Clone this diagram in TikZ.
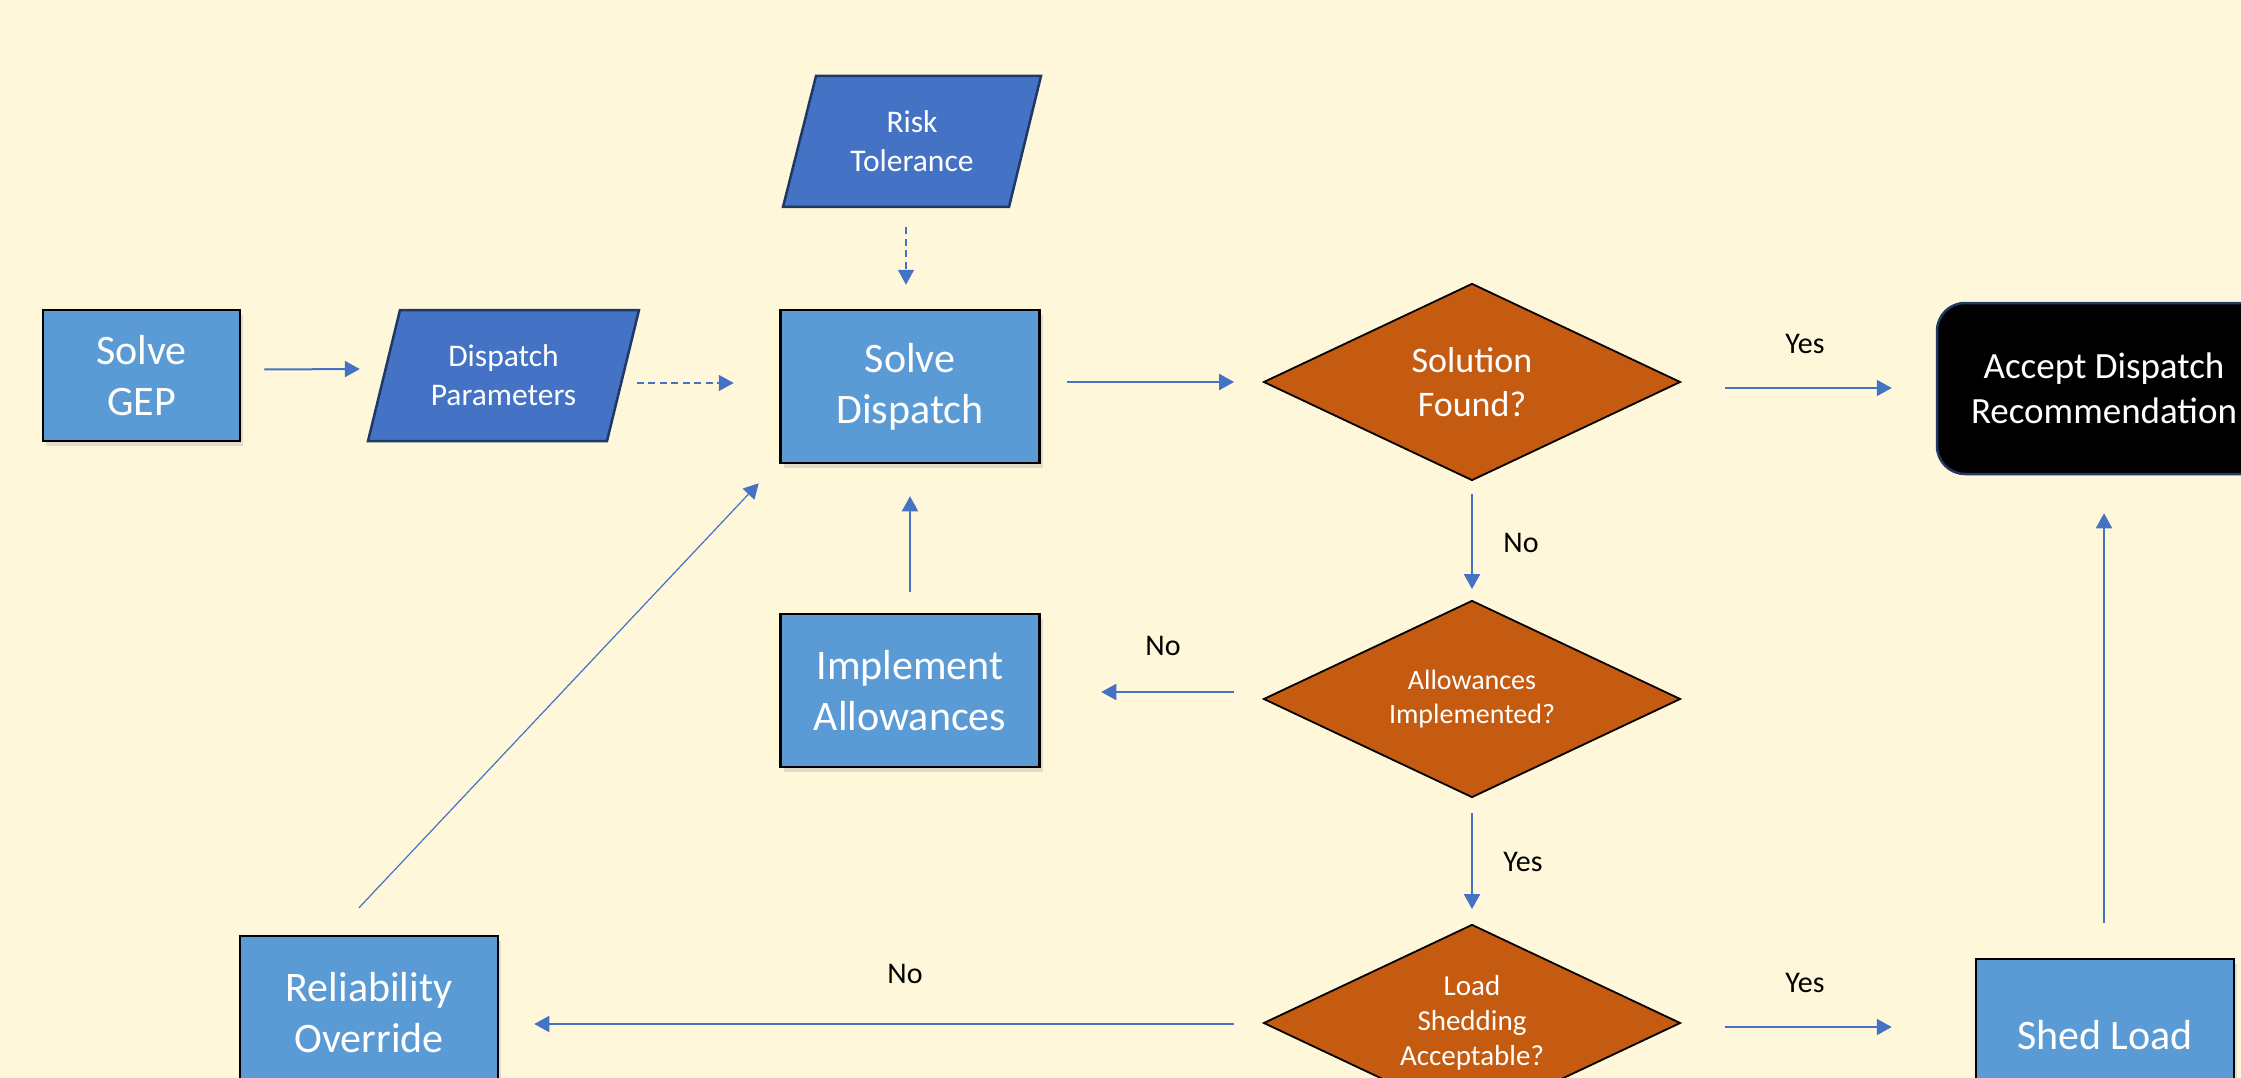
\documentclass[tikz,border=0pt]{standalone}
\usepackage{fontspec}
\setmainfont{Carlito}
\usetikzlibrary{arrows.meta,shapes.geometric,calc,shadows}
\definecolor{bg}{HTML}{FFF7DA}
\definecolor{procblue}{HTML}{5B9BD5}
\definecolor{ioblue}{HTML}{4472C4}
\definecolor{navy}{HTML}{1F3864}
\definecolor{decor}{HTML}{C55A11}
\definecolor{arrowc}{HTML}{4472C4}
\tikzset{
 proc/.style={rectangle, draw=black, line width=2.5pt, fill=procblue, text=white, align=center, inner sep=0pt, minimum width=258pt, minimum height=153pt, font=\fontsize{42}{51}\selectfont, drop shadow={shadow xshift=3pt, shadow yshift=-5pt, opacity=0.22}},
 iotext/.style={rectangle, text=white, align=center, inner sep=0pt, font=\fontsize{31.5}{39}\selectfont},
 ioshape/.style={fill=ioblue, draw=navy, line width=2.5pt, line join=miter},
 decision/.style={diamond, aspect=2.12, draw=black, line width=1.8pt, fill=decor, text=white, align=center, inner sep=0pt, minimum width=417pt, minimum height=197pt},
 terminal/.style={rectangle, rounded corners=28pt, draw=navy, line width=2.5pt, fill=black, text=white, align=center, inner sep=0pt, minimum width=334pt, minimum height=171pt, font=\fontsize{37}{45}\selectfont},
 flow/.style={draw=arrowc, line width=2pt, -{Triangle[length=15pt,width=16pt]}},
 thinflow/.style={flow, line width=1.2pt},
 dashflow/.style={flow, line width=1.5pt, dash pattern=on 7pt off 4.5pt},
 lbl/.style={text=black, font=\fontsize{30}{36}\selectfont, inner sep=0pt},
}
\begin{document}
\begin{tikzpicture}[x=1pt,y=-1pt]
\useasboundingbox (0,0) rectangle (2241,1078);
\fill[bg] (0,0) rectangle (2241,1078);
\clip (0,0) rectangle (2241,1078);

% input/output parallelograms
\filldraw[ioshape] (400,310) -- (639,310) -- (607,441) -- (368,441) -- cycle;
\filldraw[ioshape] (816,76) -- (1041,76) -- (1009,207) -- (783,207) -- cycle;

% nodes
\node[proc, minimum width=197pt, minimum height=131pt] (gep) at (141.5,375.5) {Solve\\GEP};
\node[iotext, minimum width=239pt, minimum height=131pt] (dp) at (503.5,375.5) {Dispatch\\Parameters};
\node[iotext, minimum width=225pt, minimum height=131pt] (rt) at (912,141.5) {Risk\\Tolerance};
\node[proc, minimum width=259pt] (sd) at (910,386.5) {Solve\\Dispatch};
\node[decision, font=\fontsize{36}{44}\selectfont] (sf) at (1472,382) {Solution\\Found?};
\node[terminal] (acc) at (2104,388.5) {Accept Dispatch\\Recommendation};
\node[decision, font=\fontsize{28}{34}\selectfont] (ai) at (1472,699) {Allowances\\Implemented?};
\node[proc, minimum width=259pt] (ia) at (910,690.5) {Implement\\Allowances};
\node[decision, font=\fontsize{29}{35}\selectfont] (ls) at (1472,1023) {Load\\Shedding\\Acceptable?};
\node[proc] (ro) at (369,1012.5) {Reliability\\Override};
\node[proc] (shed) at (2105,1035.5) {Shed Load};

% connectors
\draw[flow] ($(gep.east)+(23,-6)$) -- ($(dp.west)+(-24,-6.5)$);
\draw[dashflow] ($(dp.east)+(13.5,7.5)$) -- ($(sd.west)+(-45.5,-3.5)$);
\draw[dashflow] ($(rt.south)+(-6,20)$) -- ($(sd.north)+(-4,-24)$);
\draw[flow] ($(sd.east)+(26.5,-4.5)$) -- ($(sf.west)+(-28.5,0)$);
\draw[flow] ($(sf.east)+(43.5,6)$) -- ($(acc.west)+(-44,-0.5)$);
\draw[flow] ($(sf.south)+(0,12.5)$) -- ($(ai.north)+(0,-10.5)$);
\draw[flow] ($(ai.west)+(-28.5,-7)$) -- ($(ia.east)+(60.5,1.5)$);
\draw[flow] ($(ia.north)+(0,-21)$) -- ($(sd.south)+(0,32)$);
\draw[flow] ($(ai.south)+(0,14.5)$) -- ($(ls.north)+(0,-14.5)$);
\draw[flow] ($(ls.east)+(43.5,4)$) -- ($(shed.west)+(-83,-8.5)$);
\draw[flow] ($(ls.west)+(-28.5,1)$) -- ($(ro.east)+(35,11.5)$);
\draw[thinflow] ($(ro.north)+(-10,-27)$) -- ($(sd.south west)+(-20.5,19)$);
\draw[flow] ($(shed.north)+(-1,-35)$) -- ($(acc.south)+(0,38)$);

% labels
\node[lbl] (l1) at (1805,344) {Yes};
\node[lbl] (l2) at (1521,543) {No};
\node[lbl] (l3) at (1163,646) {No};
\node[lbl] (l4) at (1523,862) {Yes};
\node[lbl] (l5) at (1805,983) {Yes};
\node[lbl] (l6) at (905,974) {No};
\end{tikzpicture}
\end{document}
